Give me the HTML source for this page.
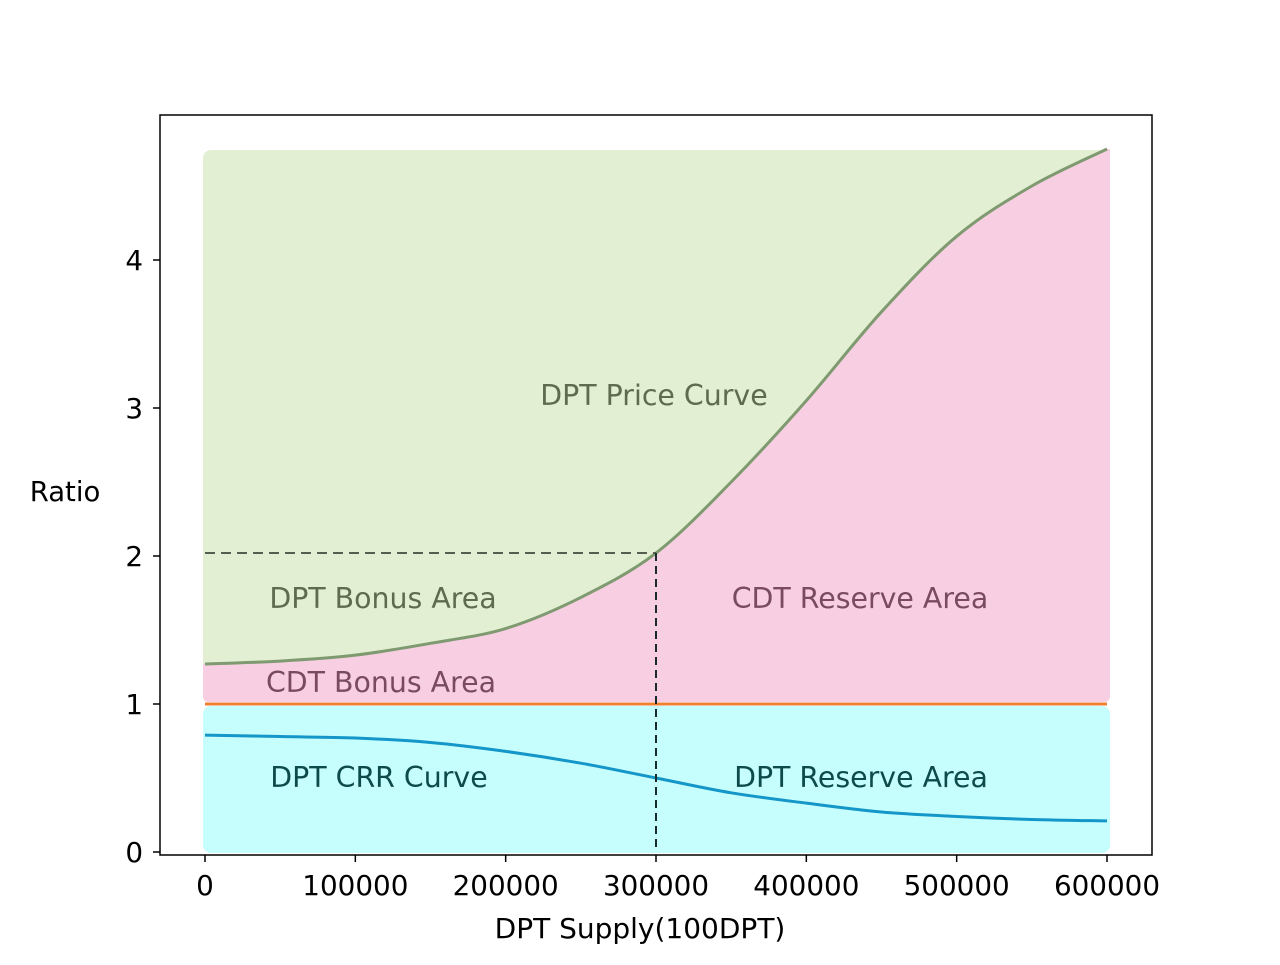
<!DOCTYPE html>
<html><head><meta charset="utf-8"><style>
body{margin:0;background:#fff;width:1280px;height:960px;overflow:hidden}
svg text{font-family:"DejaVu Sans","Liberation Sans",sans-serif}
</style></head><body>
<svg id="chart" width="1280" height="960" xmlns="http://www.w3.org/2000/svg">
<g id="areas"></g>
<g id="marks"></g>
<rect x="160" y="115" width="992" height="740" fill="none" stroke="#000" stroke-width="1.5"/>
<g id="axes"></g>
<text x="65" y="501" font-size="27.5" text-anchor="middle">Ratio</text>
<text x="640" y="938" font-size="28" text-anchor="middle">DPT Supply(100DPT)</text>
<text x="654" y="405" font-size="28.4" fill="#5e6b4e" text-anchor="middle">DPT Price Curve</text>
<text x="383" y="608" font-size="28.4" fill="#5e6b4e" text-anchor="middle">DPT Bonus Area</text>
<text x="860" y="608" font-size="28.4" fill="#7a4b5e" text-anchor="middle">CDT Reserve Area</text>
<text x="381" y="692" font-size="28.4" fill="#7a4b5e" text-anchor="middle">CDT Bonus Area</text>
<text x="379" y="787" font-size="28.4" fill="#0d4a4a" text-anchor="middle">DPT CRR Curve</text>
<text x="861" y="787" font-size="28.4" fill="#0d4a4a" text-anchor="middle">DPT Reserve Area</text>
</svg>
<script>
const supply=[0,50000,100000,150000,200000,250000,300000,350000,400000,450000,500000,550000,600000];
const price=[1.27,1.29,1.33,1.41,1.51,1.72,2.02,2.5,3.05,3.65,4.16,4.5,4.75];
const crr=[0.79,0.78,0.77,0.74,0.68,0.6,0.5,0.4,0.33,0.27,0.24,0.22,0.21];
const xTicks=[0,100000,200000,300000,400000,500000,600000];
const yTicks=[0,1,2,3,4];
const markX=300000, markY=2.02;
const X=v=>205+v*902/600000, Y=v=>852-v*148;
const NS="http://www.w3.org/2000/svg";
function mk(t,a,p){const e=document.createElementNS(NS,t);for(const k in a)e.setAttribute(k,a[k]);p.appendChild(e);return e;}
const areas=document.getElementById('areas'),marks=document.getElementById('marks'),axes=document.getElementById('axes');
function smooth(xs,ys){let d='M'+X(xs[0])+','+Y(ys[0]);for(let i=0;i<xs.length-1;i++){const x0=X(xs[i]),y0=Y(ys[i]),x1=X(xs[i+1]),y1=Y(ys[i+1]);const xp=X(xs[Math.max(0,i-1)]),yp=Y(ys[Math.max(0,i-1)]),xn=X(xs[Math.min(xs.length-1,i+2)]),yn=Y(ys[Math.min(xs.length-1,i+2)]);d+=' C'+(x0+(x1-xp)/6)+','+(y0+(y1-yp)/6)+' '+(x1-(xn-x0)/6)+','+(y1-(yn-y0)/6)+' '+x1+','+y1;}return d;}
const xa=X(supply[0])-2,xb=X(supply[supply.length-1])+3;
let e=mk('rect',{x:xa,y:Y(price[price.length-1])+1,width:xb-xa,height:Y(1)-Y(price[price.length-1])-3,rx:8,fill:'#e2efd2'},areas);

const pc=smooth(supply,price);
e=mk('path',{d:pc+' L'+xb+','+Y(price[price.length-1])+' L'+xb+','+(Y(1)-8)+' Q'+xb+','+(Y(1)-2)+' '+(xb-6)+','+(Y(1)-2)+' L'+(xa+6)+','+(Y(1)-2)+' Q'+xa+','+(Y(1)-2)+' '+xa+','+(Y(1)-8)+' L'+xa+','+Y(price[0])+' Z',fill:'#f8cfe2'},areas);

e=mk('rect',{x:xa,y:Y(1)+2,width:xb-xa,height:Y(0)-Y(1)-1,rx:8,fill:'#c6fefd'},areas);

e=mk('line',{x1:X(0),x2:X(600000),y1:Y(1),y2:Y(1),stroke:'#f08030','stroke-width':3},marks);

e=mk('path',{d:pc,fill:'none',stroke:'#7f9a70','stroke-width':3},marks);

e=mk('path',{d:smooth(supply,crr),fill:'none',stroke:'#1496c8','stroke-width':3},marks);

e=mk('line',{x1:X(0),x2:X(markX),y1:Y(markY),y2:Y(markY),stroke:'#555f50','stroke-width':2,'stroke-dasharray':'10,6'},marks);

e=mk('line',{x1:X(markX),x2:X(markX),y1:Y(markY),y2:Y(0),stroke:'#1a2a2a','stroke-width':2,'stroke-dasharray':'8,5'},marks);

xTicks.forEach(v=>{let t=mk('line',{x1:X(v),x2:X(v),y1:855,y2:862,stroke:'#000','stroke-width':1.5},axes);

t=mk('text',{x:X(v),y:895,'font-size':27.8,'text-anchor':'middle'},axes);t.textContent=v;
});
yTicks.forEach(v=>{let t=mk('line',{x1:153,x2:160,y1:Y(v),y2:Y(v),stroke:'#000','stroke-width':1.5},axes);

t=mk('text',{x:143,y:Y(v)+10,'font-size':27.8,'text-anchor':'end'},axes);t.textContent=v;
});
</script>
</body></html>
